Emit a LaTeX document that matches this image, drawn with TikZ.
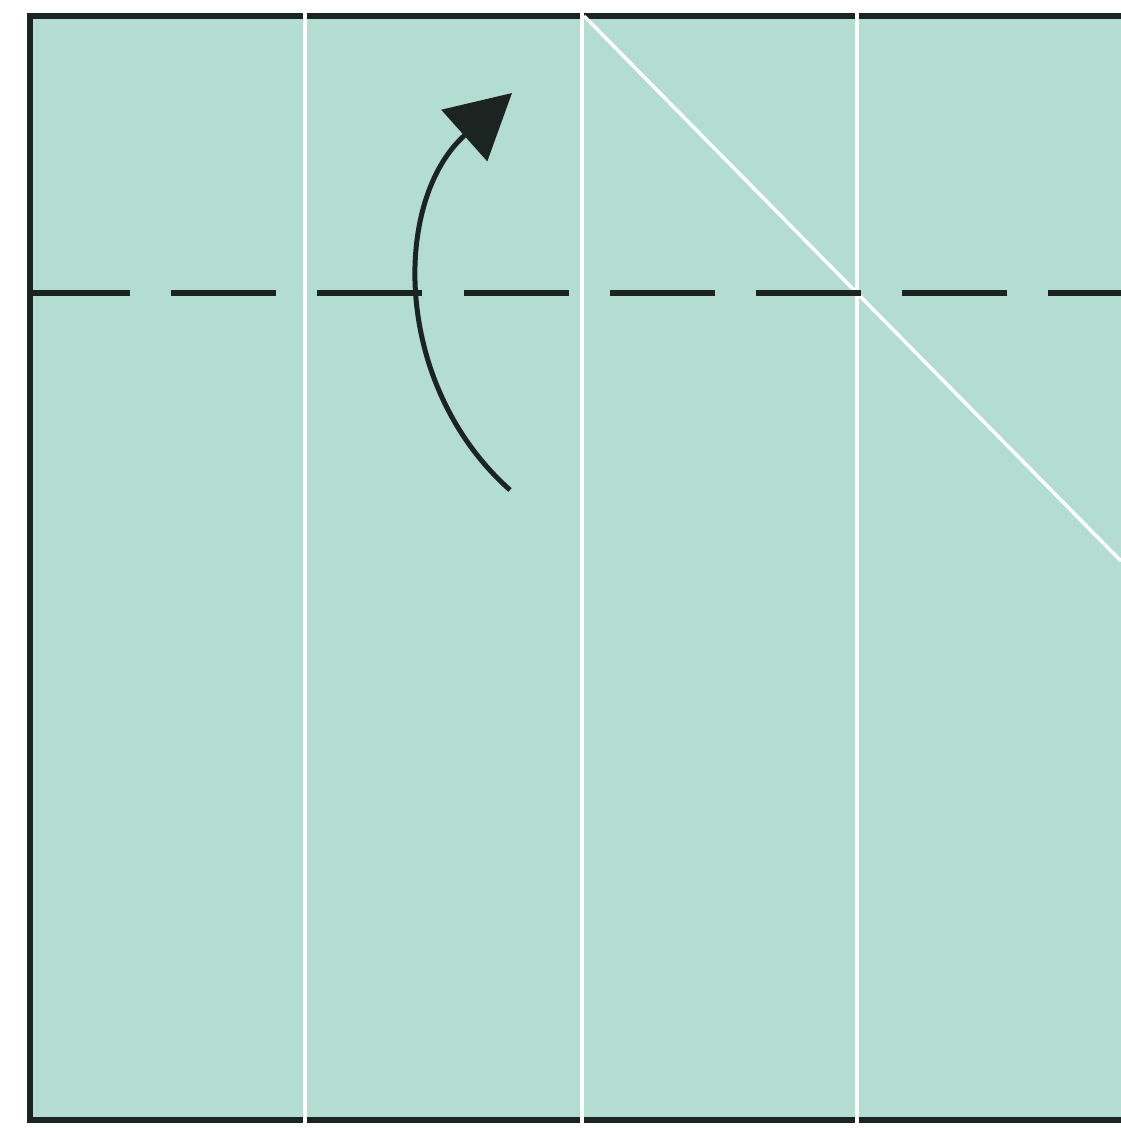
\documentclass[tikz,border=0pt]{standalone}
\usetikzlibrary{arrows.meta}
\definecolor{paper}{RGB}{179,221,209}
\definecolor{ink}{RGB}{28,36,34}
\tikzset{
  border/.style={draw=ink, line width=6pt, line cap=butt},
  crease/.style={draw=white, line width=4.5pt},
  valley/.style={draw=ink, line width=6pt, dash pattern=on 105pt off 41.2pt, dash phase=5pt},
  foldarrow/.style={draw=ink, line width=5pt, -{Triangle[width=68pt,length=64pt]}}
}
\begin{document}
\begin{tikzpicture}[x=1pt,y=-1pt]
\useasboundingbox (0,0) rectangle (1121,1133);
\fill[white] (0,0) rectangle (1121,1133);
% paper
\fill[paper] (30,16) rectangle (1121,1120);
% black outline (right side runs off the picture)
\draw[border] (1121,16) -- (30,16) -- (30,1120) -- (1121,1120);
% white creases
\coordinate (c1t) at (305,10);  \coordinate (c1b) at (305,1126);
\coordinate (c2t) at (582,10);  \coordinate (c2b) at (582,1126);
\coordinate (c3t) at (857,10);  \coordinate (c3b) at (857,1126);
\draw[crease] (c1t) -- (c1b);
\draw[crease] (c2t) -- (c2b);
\draw[crease] (c3t) -- (c3b);
\coordinate (dgA) at (584,16);
\coordinate (dgB) at (1121,561);
\draw[crease, line width=3.5pt] (dgA) -- (dgB);
% valley fold line
\coordinate (vL) at (30,293);
\coordinate (vR) at (1121,293);
\draw[valley] (vL) -- (vR);
% fold arrow
\coordinate (aS) at (510,490);
\coordinate (aE) at (512,93);
\draw[foldarrow] (aS) .. controls (392,385) and (392,200) .. (aE);
\end{tikzpicture}
\end{document}
